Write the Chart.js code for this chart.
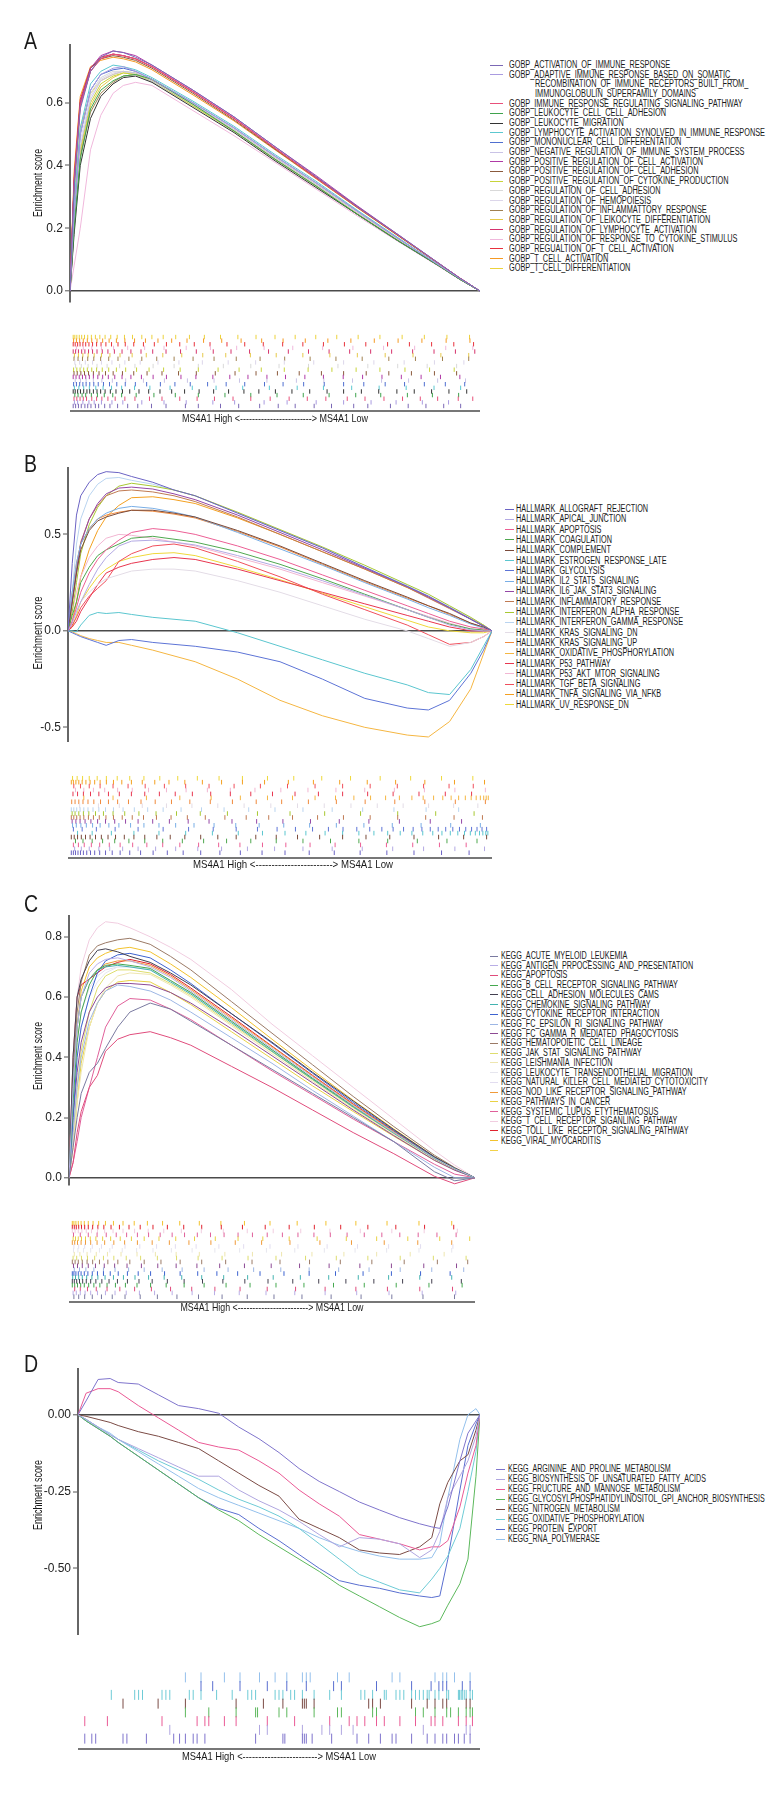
<!DOCTYPE html>
<html><head><meta charset="utf-8">
<script src="https://cdn.jsdelivr.net/npm/chart.js@4.4.1/dist/chart.umd.min.js"></script>
<style>
html,body{margin:0;padding:0;background:#fff}
#page{position:relative;width:780px;height:1800px;overflow:hidden;font-family:'Liberation Sans',Arial,sans-serif;color:#1a1a1a}
#page canvas{position:absolute}
.t{position:absolute;white-space:pre;color:#1a1a1a}
.sw{position:absolute;height:1px}
.base{position:absolute;height:2px;background:#777}
</style></head><body><div id="page"></div>
<script>
// ---------------- DATA ----------------
// x positions are % of the ranked gene list (MS4A1 High -> Low)
const xA = [0,1,2.5,5,7.5,10.5,13,16,20,30,40,50,60,70,80,90,95,100];
const xB = [0,1,2,3,5,7,9,12,15,20,25,30,40,50,60,70,80,85,90,95,98,100];
const xC = [0,1,2,3,5,7,9,12,15,20,25,30,40,50,60,70,80,90,95,100];
const xD = [0,2,5,8,10,15,20,25,30,35,40,45,50,55,60,65,70,75,80,85,88,90,92,95,97,99,100];

const tickA = [0,0.2,0.4,0.6];
const tickB = [-0.5,0,0.5];
const tickC = [0,0.2,0.4,0.6,0.8];
const tickD = [-0.5,-0.25,0];

const gobpNames = [
"GOBP_ACTIVATION_OF_IMMUNE_RESPONSE",
"GOBP_ADAPTIVE_IMMUNE_RESPONSE_BASED_ON_SOMATIC_\nRECOMBINATION_OF_IMMUNE_RECEPTORS_BUILT_FROM_\nIMMUNOGLOBULIN_SUPERFAMILY_DOMAINS",
"GOBP_IMMUNE_RESPONSE_REGULATING_SIGNALING_PATHWAY",
"GOBP_LEUKOCYTE_CELL_CELL_ADHESION",
"GOBP_LEUKOCYTE_MIGRATION",
"GOBP_LYMPHOCYTE_ACTIVATION_SYNOLVED_IN_IMMUNE_RESPONSE",
"GOBP_MONONUCLEAR_CELL_DIFFERENTATION",
"GOBP_NEGATIVE_REGULATION_OF_IMMUNE_SYSTEM_PROCESS",
"GOBP_POSITIVE_REGULATION_OF_CELL_ACTIVATION",
"GOBP_POSITIVE_REGULATION_OF_CELL_ADHESION",
"GOBP_POSITIVE_REGULATION_OF_CYTOKINE_PRODUCTION",
"GOBP_REGULATION_OF_CELL_ADHESION",
"GOBP_REGULATION_OF_HEMOPOIESIS",
"GOBP_REGULATION_OF_INFLAMMATTORY_RESPONSE",
"GOBP_REGULATION_OF_LEIKOCYTE_DIFFERENTIATION",
"GOBP_REGULATION_OF_LYMPHOCYTE_ACTIVATION",
"GOBP_REGULATION_OF_RESPONSE_TO_CYTOKINE_STIMULUS",
"GOBP_REGUALTION_OF_T_CELL_ACTIVATION",
"GOBP_T_CELL_ACTIVATION",
"GOBP_T_CELL_DIFFERENTIATION"];
const gobpColors = ['#7b68b5','#a99be0','#e8507a','#3fa34d','#333333','#5cc8d0','#4f6fd0','#c9c3e6','#b03aa6','#8b5a3c','#c8d43a','#d9d9d9','#dcd6ea','#a08050','#e6c94a','#d6336c','#f0b8dc','#e8323c','#f59a23','#ecd23c'];
const gobpES = [
[0,0.33,0.58,0.70,0.745,0.765,0.76,0.745,0.72,0.64,0.555,0.46,0.365,0.27,0.18,0.088,0.042,0],
[0,0.25,0.50,0.64,0.69,0.71,0.715,0.70,0.675,0.60,0.52,0.43,0.345,0.255,0.168,0.082,0.04,0],
[0,0.34,0.59,0.70,0.74,0.755,0.75,0.74,0.715,0.635,0.55,0.455,0.36,0.268,0.178,0.087,0.042,0],
[0,0.2,0.42,0.58,0.64,0.67,0.685,0.69,0.675,0.595,0.51,0.42,0.335,0.245,0.16,0.08,0.038,0],
[0,0.18,0.40,0.55,0.62,0.66,0.68,0.685,0.665,0.585,0.505,0.415,0.33,0.245,0.16,0.08,0.038,0],
[0,0.28,0.52,0.66,0.70,0.72,0.715,0.705,0.68,0.605,0.525,0.435,0.35,0.258,0.17,0.083,0.04,0],
[0,0.25,0.50,0.64,0.69,0.705,0.71,0.70,0.675,0.60,0.52,0.43,0.345,0.255,0.168,0.082,0.04,0],
[0,0.22,0.46,0.61,0.67,0.69,0.70,0.695,0.67,0.595,0.515,0.425,0.34,0.25,0.165,0.08,0.038,0],
[0,0.35,0.60,0.71,0.75,0.765,0.76,0.75,0.72,0.64,0.555,0.46,0.368,0.272,0.18,0.088,0.042,0],
[0,0.34,0.60,0.71,0.74,0.75,0.745,0.735,0.71,0.63,0.545,0.452,0.36,0.267,0.177,0.087,0.041,0],
[0,0.22,0.45,0.60,0.66,0.685,0.695,0.69,0.67,0.59,0.51,0.42,0.335,0.247,0.163,0.08,0.038,0],
[0,0.25,0.5,0.63,0.68,0.70,0.70,0.69,0.665,0.59,0.51,0.42,0.335,0.247,0.163,0.08,0.038,0],
[0,0.24,0.48,0.62,0.675,0.695,0.70,0.69,0.668,0.592,0.512,0.422,0.337,0.248,0.164,0.08,0.038,0],
[0,0.2,0.43,0.57,0.63,0.665,0.685,0.69,0.672,0.592,0.51,0.42,0.335,0.245,0.162,0.08,0.038,0],
[0,0.22,0.44,0.59,0.65,0.68,0.695,0.69,0.67,0.59,0.51,0.42,0.335,0.247,0.163,0.08,0.038,0],
[0,0.34,0.59,0.70,0.74,0.755,0.75,0.74,0.715,0.635,0.55,0.455,0.362,0.27,0.178,0.087,0.042,0],
[0,0.08,0.2,0.45,0.56,0.63,0.655,0.665,0.655,0.575,0.495,0.41,0.325,0.24,0.158,0.078,0.037,0],
[0,0.36,0.61,0.71,0.745,0.755,0.75,0.74,0.715,0.635,0.55,0.455,0.362,0.27,0.178,0.087,0.042,0],
[0,0.38,0.62,0.715,0.735,0.745,0.74,0.73,0.705,0.625,0.542,0.45,0.358,0.266,0.176,0.086,0.041,0],
[0,0.3,0.52,0.63,0.67,0.69,0.70,0.695,0.67,0.595,0.515,0.425,0.34,0.25,0.165,0.08,0.038,0]];
const gobpHits = [
[0,0.6,1.3,2,2.9,3.6,4.4,5.5,6.3,7.8,9.1,11,13.5,16,19.4,23,27.8,31,36.5,41,46.2,50.8,55,59.7,64,69.5,73,78.6,83,87.4,91.8,96],
[0.3,1.1,2.4,3.9,5.2,7,9.6,12.3,17,22.5,28,34.6,40,47.3,53,60.2,67,73.8,80,86.5,93],
[0.2,0.9,1.7,2.5,3.3,4.6,5.8,7.1,8.6,10.4,12.8,15.3,18.9,22,26.4,30.7,35,39.6,44,48.8,53.5,58,62.6,67.9,72.3,77,81.6,86,90.3,95.4,99],
[0.4,1.2,2.2,3.1,4.5,6,7.7,9.8,12,15.6,20,25.3,31,37.6,44,50.5,57,63.4,70,76.2,82.8,89,95.5],
[0,0.5,1.1,1.8,2.6,3.4,4.1,5,5.9,6.8,7.9,9.2,10.6,12.2,14,16.3,18.7,21.5,24.4,27.6,31.2,34.8,38.5,42.3,46,50.1,54.2,58.6,62.9,67,71.4,75.7,80.2,84.5,88.8,93.1,97.5],
[0.3,1.4,2.6,4,5.6,7.4,9.5,12,15.2,19,24,29.5,35.4,42,48.6,55.5,62,69,75.8,82.5,89.4,96],
[0.1,0.8,1.6,2.4,3.2,4.1,5.1,6.2,7.5,9,10.8,12.9,15.4,18.2,21.6,25.2,29,33.3,37.9,42.5,47.4,52,57.1,62.2,67,72,77.3,82.1,87,92.2,97],
[0.5,1.8,3.2,5,7.1,9.7,13,17.4,22.6,28.3,34.9,41.2,48,55.3,62.1,69.2,76.4,83.1,90.3,97.2],
[0,0.7,1.5,2.3,3.1,4,5,6.1,7.3,8.7,10.3,12.1,14.3,16.9,19.8,23.1,26.7,30.4,34.6,38.8,43.3,48,52.6,57.4,62,66.9,71.7,76.5,81.3,86.2,91,95.8],
[0.2,1,1.9,2.8,3.8,5,6.4,8,9.9,12.2,15,18.3,22,26.1,30.5,35.2,40.1,45.3,50.6,56,61.5,67,72.6,78.2,83.8,89.5,95],
[0.1,0.9,1.7,2.6,3.5,4.6,5.8,7.2,8.8,10.7,13,15.7,18.8,22.4,26.5,31,35.9,41.1,46.6,52.3,58.2,64.1,70.1,76,82.2,88.3,94.4],
[0.6,2,3.7,5.9,8.4,11.5,15.3,19.8,25,31,37.2,44,51,58.3,65.6,73,80.4,87.7,95],
[0.4,1.6,3,4.8,7,9.6,12.8,16.6,21,26.2,32,38.4,45.2,52.3,59.6,67,74.5,82,89.5,96.8],
[0.2,1.2,2.3,3.6,5.1,6.8,8.8,11.1,13.8,17,20.7,25,29.7,34.9,40.4,46.3,52.4,58.7,65.1,71.6,78.2,84.8,91.5,98],
[0.3,1.3,2.4,3.7,5.2,7,9.1,11.6,14.6,18.1,22.2,26.9,32.1,37.8,43.9,50.3,56.9,63.6,70.4,77.3,84.2,91.1,98],
[0,0.6,1.3,2.1,2.9,3.8,4.8,5.9,7.2,8.6,10.2,12.1,14.3,16.8,19.7,23,26.6,30.5,34.7,39.1,43.7,48.4,53.3,58.3,63.4,68.5,73.7,78.9,84.1,89.4,94.7,99.5],
[0.8,2.5,4.6,7,10,13.5,17.7,22.5,28,34,40.5,47.3,54.4,61.8,69.3,76.9,84.6,92.3,99],
[0,0.5,1.1,1.7,2.4,3.1,3.9,4.8,5.8,6.9,8.1,9.5,11.1,12.9,15,17.4,20.1,23.1,26.4,30,33.9,38.1,42.5,47.1,51.9,56.9,62,67.2,72.5,77.9,83.3,88.8,94.3,99.2],
[0.1,0.8,1.6,2.5,3.5,4.6,5.9,7.3,8.9,10.7,12.8,15.2,17.9,21,24.4,28.2,32.3,36.8,41.6,46.7,52,57.5,63.1,68.8,74.6,80.5,86.4,92.4,98.3],
[0,0.4,0.9,1.5,2.1,2.8,3.6,4.5,5.5,6.6,7.9,9.3,10.9,12.7,14.7,17,19.5,22.3,25.4,28.8,32.5,36.5,40.8,45.3,50,55,60.1,65.3,70.6,76,81.5,87,92.6,98.2]];

const hallNames = ["HALLMARK_ALLOGRAFT_REJECTION","HALLMARK_APICAL_JUNCTION","HALLMARK_APOPTOSIS","HALLMARK_COAGULATION","HALLMARK_COMPLEMENT","HALLMARK_ESTROGEN_RESPONSE_LATE","HALLMARK_GLYCOLYSIS","HALLMARK_IL2_STAT5_SIGNALING","HALLMARK_IL6_JAK_STAT3_SIGNALING","HALLMARK_INFLAMMATORY_RESPONSE","HALLMARK_INTERFERON_ALPHA_RESPONSE","HALLMARK_INTERFERON_GAMMA_RESPONSE","HALLMARK_KRAS_SIGNALING_DN","HALLMARK_KRAS_SIGNALING_UP","HALLMARK_OXIDATIVE_PHOSPHORYLATION","HALLMARK_P53_PATHWAY","HALLMARK_P53_AKT_MTOR_SIGNALING","HALLMARK_TGF_BETA_SIGNALING","HALLMARK_TNFA_SIGNALING_VIA_NFKB","HALLMARK_UV_RESPONSE_DN"];
const hallColors = ['#6b63c4','#b3a9e3','#ec5f95','#4fa84f','#7a4a3a','#5bc6cf','#5d74d6','#79aee6','#9447a6','#c07a52','#a8c832','#b9d4f0','#e3dce6','#f08a3c','#f5b642','#e8364f','#f2b6d2','#f04f5c','#f4a020','#efd83a'];
const hallES = [
[0,0.35,0.60,0.70,0.77,0.81,0.825,0.82,0.80,0.77,0.73,0.70,0.61,0.52,0.43,0.33,0.23,0.18,0.12,0.06,0.025,0],
[0,0.04,0.1,0.15,0.24,0.32,0.38,0.44,0.465,0.47,0.46,0.445,0.39,0.33,0.26,0.185,0.11,0.07,0.03,0.005,0,0],
[0,0.05,0.12,0.2,0.3,0.37,0.42,0.47,0.51,0.53,0.52,0.50,0.44,0.37,0.29,0.21,0.13,0.09,0.05,0.02,0.01,0],
[0,0.08,0.15,0.25,0.33,0.39,0.42,0.45,0.48,0.49,0.475,0.46,0.41,0.345,0.27,0.19,0.11,0.07,0.035,0.01,0.005,0],
[0,0.15,0.3,0.42,0.52,0.57,0.59,0.61,0.625,0.625,0.61,0.59,0.52,0.44,0.35,0.26,0.175,0.13,0.09,0.04,0.02,0],
[0,0,-0.005,0.03,0.08,0.095,0.09,0.095,0.085,0.07,0.06,0.05,-0.01,-0.08,-0.15,-0.22,-0.28,-0.32,-0.33,-0.2,-0.08,0],
[0,-0.01,-0.02,-0.03,-0.045,-0.06,-0.075,-0.05,-0.045,-0.06,-0.07,-0.08,-0.11,-0.16,-0.25,-0.35,-0.40,-0.41,-0.36,-0.22,-0.1,0],
[0,0.2,0.35,0.45,0.53,0.58,0.61,0.635,0.645,0.635,0.615,0.59,0.51,0.425,0.34,0.25,0.165,0.12,0.08,0.035,0.015,0],
[0,0.15,0.3,0.45,0.58,0.66,0.71,0.74,0.745,0.735,0.71,0.68,0.60,0.51,0.42,0.325,0.23,0.175,0.12,0.06,0.025,0],
[0,0.15,0.32,0.46,0.58,0.65,0.70,0.725,0.73,0.72,0.70,0.67,0.59,0.50,0.41,0.32,0.225,0.17,0.115,0.06,0.025,0],
[0,0.1,0.25,0.4,0.55,0.64,0.70,0.75,0.765,0.75,0.73,0.70,0.615,0.525,0.435,0.34,0.24,0.19,0.13,0.07,0.03,0],
[0,0.2,0.45,0.58,0.70,0.76,0.79,0.795,0.78,0.76,0.73,0.70,0.61,0.52,0.43,0.33,0.235,0.18,0.125,0.065,0.03,0],
[0,0.05,0.1,0.15,0.2,0.24,0.27,0.29,0.31,0.32,0.32,0.31,0.26,0.2,0.13,0.06,0,-0.04,-0.08,-0.06,-0.03,0],
[0,0.2,0.35,0.45,0.53,0.58,0.60,0.615,0.625,0.62,0.605,0.585,0.515,0.435,0.345,0.255,0.17,0.13,0.085,0.04,0.015,0],
[0,-0.005,-0.015,-0.025,-0.04,-0.05,-0.06,-0.06,-0.075,-0.1,-0.13,-0.16,-0.25,-0.36,-0.44,-0.5,-0.54,-0.55,-0.47,-0.3,-0.12,0],
[0,0.02,0.05,0.1,0.17,0.24,0.30,0.33,0.35,0.37,0.38,0.37,0.32,0.26,0.2,0.14,0.08,0.05,0.02,0,0,0],
[0,0.1,0.2,0.28,0.38,0.44,0.48,0.50,0.495,0.48,0.46,0.44,0.38,0.32,0.25,0.18,0.11,0.075,0.04,0.01,0,0],
[0,0.03,0.07,0.12,0.18,0.22,0.26,0.36,0.40,0.44,0.45,0.43,0.36,0.28,0.19,0.11,0.03,-0.02,-0.07,-0.06,-0.03,0],
[0,0.05,0.15,0.28,0.42,0.52,0.59,0.65,0.69,0.695,0.68,0.66,0.585,0.50,0.41,0.32,0.225,0.175,0.12,0.065,0.03,0],
[0,0.02,0.08,0.15,0.22,0.28,0.32,0.36,0.38,0.40,0.405,0.39,0.33,0.265,0.195,0.125,0.055,0.02,0,-0.01,-0.01,0]];
const hallHits = [
[0,0.5,1,1.6,2.2,2.9,3.7,4.6,5.6,6.8,8.2,9.8,11.7,14,16.6,19.6,23,26.8,31,35.6,40.5,45.7,51.2,57,63,69.2,75.6,82.1,88.7,95.3],
[0.8,2.4,4.3,6.6,9.2,12.3,16,20.2,25,30.3,36,42.2,48.7,55.5,62.5,69.7,77,84.4,91.9,99],
[0.5,1.7,3.1,4.8,6.8,9.1,11.7,14.7,18.1,21.9,26,30.5,35.3,40.4,45.8,51.4,57.2,63.2,69.3,75.5,81.8,88.2,94.6],
[1,2.8,5,7.5,10.4,13.8,17.6,21.9,26.6,31.7,37.2,43,49.1,55.5,62.1,68.9,75.8,82.9,90,97.2],
[0,0.7,1.5,2.4,3.4,4.5,5.8,7.2,8.8,10.6,12.7,15,17.6,20.5,23.7,27.2,31,35.1,39.5,44.2,49.1,54.2,59.5,65,70.6,76.3,82.1,88,94,99.5],
[1.5,5,9.6,15,21,27.4,33.8,40,45.8,51.2,56.2,60.8,65,68.9,72.5,75.8,78.8,81.6,84.2,86.6,88.8,90.8,92.6,94.2,95.6,96.8,97.8,98.6,99.3,99.8],
[0.5,2.6,6,10.5,16,22,28.1,34,39.5,44.6,49.3,53.7,57.8,61.6,65.1,68.4,71.5,74.4,77.1,79.6,81.9,84,86,87.9,89.7,91.4,93,94.5,95.9,97.2,98.4,99.5],
[0.3,1.2,2.3,3.6,5.1,6.9,9,11.4,14.2,17.4,21,25,29.4,34.2,39.4,45,50.9,57.1,63.5,70.1,76.9,83.8,90.9,98],
[0.2,1.1,2.1,3.3,4.7,6.3,8.2,10.4,13,16,19.5,23.5,28,33,38.5,44.4,50.7,57.3,64.2,71.3,78.6,86,93.5],
[0,0.6,1.3,2.1,3,4.1,5.3,6.7,8.3,10.1,12.2,14.6,17.3,20.4,23.9,27.8,32.1,36.8,41.9,47.3,53,59,65.2,71.6,78.2,84.9,91.7,98.5],
[0.2,0.9,1.8,2.9,4.2,5.8,7.7,10,12.8,16.2,20.3,25.2,30.9,37.4,44.6,52.4,60.7,69.3,78.2,87.3,96.5],
[0,0.6,1.3,2.1,3,4,5.2,6.6,8.2,10.1,12.4,15.1,18.3,22,26.3,31.2,36.6,42.5,48.8,55.5,62.5,69.8,77.3,85,92.8],
[2,6.5,11.5,17,22.8,28.9,35.1,41.4,47.8,54.2,60.6,67,73.3,79.5,85.6,91.6,97.4],
[0.1,0.9,1.8,2.8,4,5.4,7,8.9,11.1,13.7,16.7,20.1,24,28.4,33.3,38.6,44.3,50.4,56.8,63.5,70.4,77.5,84.7,92,99.2],
[3,10,18,26,33.5,40.5,47,53,58.4,63.3,67.7,71.7,75.3,78.6,81.6,84.3,86.8,89,91,92.8,94.4,95.8,97,98,98.8,99.4,99.9],
[0.4,1.5,2.9,4.6,6.6,8.9,11.5,14.4,17.6,21.1,24.9,29,33.4,38.1,43,48.2,53.6,59.2,65,71,77.1,83.3,89.6,95.9],
[1,3,5.3,8,11.1,14.6,18.5,22.8,27.5,32.6,38.1,44,50.2,56.7,63.4,70.3,77.4,84.6,91.9,99.2],
[0.6,2.2,4.3,6.9,10,13.6,17.7,22.3,27.4,33,39,45.3,51.8,58.4,65,71.6,78.1,84.4,90.5,96.3],
[0,0.5,1.1,1.8,2.6,3.5,4.5,5.6,6.9,8.4,10.1,12.1,14.4,17,20,23.4,27.2,31.4,36,41,46.3,52,58,64.3,70.9,77.7,84.7,91.8,99],
[0.3,1.4,2.7,4.3,6.2,8.4,11,14,17.4,21.2,25.5,30.2,35.4,41,47,53.3,60,66.9,74,81.3,88.7,96.2]];

const keggNames = ["KEGG_ACUTE_MYELOID_LEUKEMIA","KEGG_ANTIGEN_PRPOCESSING_AND_PRESENTATION","KEGG_APOPTOSIS","KEGG_B_CELL_RECEPTOR_SIGNALING_PATHWAY","KEGG_CELL_ADHESION_MOLECULES_CAMS","KEGG_CHEMOKINE_SIGNALING_PATHWAY","KEGG_CYTOKINE_RECEPTOR_INTERACTION","KEGG_FC_EPSILON_RI_SIGNALING_PATHWAY","KEGG_FC_GAMMA_R_MEDIATED_PHAGOCYTOSIS","KEGG_HEMATOPOIETIC_CELL_LINEAGE","KEGG_JAK_STAT_SIGNALING_PATHWAY","KEGG_LEISHMANIA_INFECTION","KEGG_LEUKOCYTE_TRANSENDOTHELIAL_MIGRATION","KEGG_NATURAL_KILLER_CELL_MEDIATED_CYTOTOXICITY","KEGG_NOD_LIKE_RECEPTOR_SIGNALING_PATHWAY","KEGG_PATHWAYS_IN_CANCER","KEGG_SYSTEMIC_LUPUS_ETYTHEMATOSUS","KEGG_T_CELL_RECEPTOR_SIGANLING_PATHWAY","KEGG_TOLL_LIKE_RECEPTOR_SIGNALING_PATHWAY","KEGG_VIRAL_MYOCARDITIS"];
const keggColors = ['#7a7aa0','#b9aee6','#e04c7c','#45a84f','#444050','#43b3b0','#3d63d0','#9db6e4','#8d4a94','#9b7a66','#dedd6e','#eee6b0','#e6e6ee','#e2ddf0','#f09a3a','#e9d245','#e0609a','#f1cde0','#e0232f','#f2c22e'];
const keggES = [
[0,0.10,0.2,0.28,0.35,0.38,0.43,0.50,0.55,0.58,0.56,0.52,0.44,0.36,0.28,0.2,0.12,0.02,-0.01,0],
[0,0.3,0.5,0.6,0.68,0.71,0.725,0.73,0.72,0.70,0.665,0.62,0.525,0.43,0.335,0.24,0.15,0.065,0.03,0],
[0,0.05,0.15,0.22,0.30,0.34,0.42,0.46,0.475,0.485,0.465,0.44,0.37,0.30,0.225,0.15,0.08,0.005,-0.02,0],
[0,0.25,0.45,0.55,0.64,0.69,0.705,0.71,0.705,0.695,0.655,0.615,0.52,0.425,0.33,0.238,0.15,0.065,0.03,0],
[0,0.4,0.6,0.66,0.72,0.755,0.76,0.75,0.735,0.715,0.68,0.64,0.545,0.45,0.35,0.255,0.16,0.07,0.032,0],
[0,0.3,0.5,0.6,0.66,0.69,0.70,0.705,0.70,0.69,0.65,0.61,0.515,0.42,0.327,0.235,0.148,0.064,0.03,0],
[0,0.2,0.4,0.5,0.6,0.68,0.72,0.74,0.745,0.73,0.69,0.645,0.545,0.447,0.347,0.25,0.157,0.068,0.031,0],
[0,0.15,0.3,0.4,0.52,0.58,0.62,0.64,0.635,0.62,0.59,0.55,0.465,0.38,0.29,0.205,0.12,0.035,0.0,0],
[0,0.2,0.35,0.45,0.55,0.60,0.63,0.645,0.645,0.64,0.615,0.58,0.495,0.405,0.315,0.225,0.14,0.058,0.025,0],
[0,0.35,0.55,0.65,0.74,0.77,0.78,0.79,0.795,0.775,0.735,0.69,0.585,0.48,0.375,0.27,0.17,0.075,0.034,0],
[0,0.15,0.3,0.42,0.55,0.63,0.67,0.69,0.69,0.68,0.645,0.605,0.51,0.418,0.325,0.233,0.147,0.063,0.028,0],
[0,0.1,0.25,0.35,0.5,0.58,0.63,0.67,0.68,0.675,0.64,0.60,0.505,0.412,0.32,0.228,0.143,0.06,0.027,0],
[0,0.2,0.4,0.5,0.6,0.65,0.68,0.7,0.7,0.69,0.655,0.615,0.52,0.425,0.33,0.237,0.15,0.064,0.03,0],
[0,0.25,0.45,0.55,0.63,0.67,0.69,0.70,0.70,0.69,0.655,0.612,0.518,0.423,0.33,0.237,0.15,0.064,0.03,0],
[0,0.3,0.5,0.6,0.66,0.69,0.71,0.72,0.72,0.705,0.67,0.625,0.53,0.435,0.338,0.243,0.153,0.066,0.03,0],
[0,0.1,0.25,0.38,0.5,0.58,0.62,0.65,0.655,0.65,0.615,0.575,0.485,0.395,0.305,0.22,0.138,0.058,0.026,0],
[0,0.05,0.12,0.2,0.3,0.4,0.5,0.57,0.595,0.59,0.56,0.525,0.44,0.355,0.275,0.195,0.12,0.045,0.012,0],
[0,0.4,0.6,0.7,0.79,0.83,0.85,0.845,0.83,0.80,0.765,0.725,0.625,0.51,0.405,0.3,0.195,0.09,0.042,0],
[0,0.4,0.6,0.64,0.66,0.68,0.70,0.715,0.725,0.71,0.675,0.63,0.535,0.437,0.34,0.245,0.155,0.066,0.03,0],
[0,0.3,0.5,0.62,0.7,0.73,0.745,0.76,0.765,0.75,0.71,0.665,0.565,0.46,0.357,0.257,0.162,0.07,0.032,0]];
const keggHits = [
[0.4,1.6,3.1,5,7.3,10,13.2,17,21.3,26.2,31.6,37.5,43.8,50.5,57.5,64.8,72.3,80,87.8,95.7],
[0.2,1,2,3.2,4.6,6.3,8.3,10.7,13.5,16.8,20.6,25,30,35.6,41.8,48.5,55.7,63.3,71.2,79.3,87.6,96],
[0.6,2,3.8,6,8.7,11.9,15.6,19.8,24.6,29.9,35.7,42,48.8,55.9,63.3,71,78.9,87,95.2],
[0,0.6,1.3,2.1,3,4.1,5.4,6.9,8.7,10.8,13.3,16.2,19.6,23.5,28,33,38.5,44.5,51,58,65.4,73.1,81.1,89.3,97.6],
[0,0.5,1.1,1.8,2.6,3.5,4.6,5.9,7.4,9.2,11.3,13.8,16.7,20,23.8,28,32.6,37.7,43.2,49,55.2,61.7,68.5,75.5,82.7,90,97.4],
[0.1,0.8,1.6,2.5,3.6,4.9,6.4,8.2,10.3,12.8,15.7,19.1,23,27.4,32.4,37.9,43.9,50.3,57.1,64.2,71.6,79.2,87,95],
[0,0.4,0.9,1.5,2.2,3,3.9,5,6.3,7.8,9.5,11.5,13.8,16.5,19.6,23.1,27,31.4,36.2,41.4,47,53,59.3,65.9,72.8,79.9,87.2,94.6],
[0.5,1.8,3.4,5.4,7.8,10.7,14.1,18,22.5,27.5,33,39,45.4,52.2,59.3,66.7,74.3,82.1,90,98],
[0.3,1.3,2.5,4,5.8,8,10.6,13.7,17.3,21.4,26,31.2,36.9,43.1,49.8,56.9,64.3,72,79.9,88,96.2],
[0,0.7,1.5,2.5,3.7,5.1,6.8,8.9,11.4,14.4,18,22.2,27,32.4,38.4,45,52,59.4,67.1,75,83.1,91.4,99],
[0.2,1.1,2.3,3.8,5.6,7.8,10.4,13.5,17.1,21.3,26.1,31.5,37.5,44,51,58.4,66.1,74,82.1,90.4,98.6],
[0.5,1.9,3.7,6,8.8,12.2,16.2,20.8,26,31.8,38.2,45.1,52.4,60,68,76.2,84.6,93.1],
[0.3,1.4,2.8,4.6,6.8,9.4,12.5,16.1,20.2,24.8,30,35.7,41.9,48.6,55.7,63.1,70.8,78.7,86.8,95],
[0.4,1.6,3.1,5,7.3,10,13.2,16.9,21.1,25.8,31,36.7,42.9,49.5,56.5,63.8,71.4,79.2,87.2,95.3],
[0,0.6,1.3,2.2,3.3,4.6,6.2,8.1,10.4,13.1,16.3,20,24.3,29.2,34.7,40.8,47.4,54.5,62,69.9,78.1,86.5,95],
[0.2,0.8,1.5,2.3,3.3,4.5,5.9,7.6,9.6,12,14.8,18,21.7,25.9,30.6,35.8,41.5,47.7,54.3,61.3,68.6,76.2,84,92,99.5],
[0.3,2,4,6.2,8.5,11,13.6,16.3,19.1,22,25,28.1,31.3,34.6,38,41.5,45.1,48.8,52.6,56.5,60.5,64.6,68.8,73.1,77.5,82,86.6,91.3,96.1],
[0,0.7,1.5,2.4,3.5,4.8,6.3,8.1,10.2,12.7,15.6,19,22.9,27.3,32.3,37.8,43.8,50.3,57.2,64.5,72.1,80,88.1,96.4],
[0,0.5,1,1.6,2.3,3.1,4,5.1,6.4,7.9,9.7,11.8,14.2,17,20.2,23.8,27.9,32.4,37.3,42.6,48.3,54.3,60.6,67.2,74,81,88.2,95.5],
[0,0.4,0.9,1.5,2.2,3,4,5.2,6.6,8.3,10.3,12.7,15.5,18.8,22.6,26.9,31.8,37.2,43.1,49.5,56.3,63.5,71,78.8,86.8,95]];

const metaNames = ["KEGG_ARGININE_AND_PROLINE_METABOLISM","KEGG_BIOSYNTHESIS_OF_UNSATURATED_FATTY_ACIDS","KEGG_FRUCTURE_AND_MANNOSE_METABOLISM","KEGG_GLYCOSYLPHOSPHATIDYLINOSITOL_GPI_ANCHOR_BIOSYNTHESIS","KEGG_NITROGEN_METABOLISM","KEGG_OXIDATIVE_PHOSPHORYLATION","KEGG_PROTEIN_EXPORT","KEGG_RNA_POLYMERASE"];
const metaColors = ['#7f74cc','#b0a6e0','#ea5a95','#5cb85c','#7b4b45','#6ecbd6','#5a6fd0','#94c0ec'];
const metaES = [
[0,0.045,0.115,0.118,0.105,0.10,0.065,0.03,0.02,0.005,-0.04,-0.078,-0.123,-0.175,-0.217,-0.25,-0.284,-0.31,-0.335,-0.355,-0.365,-0.37,-0.3,-0.15,-0.06,-0.02,0],
[0,-0.015,-0.04,-0.065,-0.08,-0.11,-0.14,-0.17,-0.2,-0.2,-0.245,-0.28,-0.31,-0.347,-0.39,-0.43,-0.40,-0.405,-0.42,-0.465,-0.44,-0.38,-0.27,-0.2,-0.15,-0.07,0],
[0,0.07,0.085,0.085,0.075,0.03,-0.01,-0.05,-0.09,-0.105,-0.115,-0.15,-0.19,-0.245,-0.29,-0.33,-0.39,-0.405,-0.42,-0.44,-0.43,-0.43,-0.41,-0.3,-0.19,-0.1,0],
[0,-0.02,-0.045,-0.07,-0.09,-0.135,-0.18,-0.225,-0.27,-0.31,-0.345,-0.39,-0.43,-0.47,-0.51,-0.555,-0.59,-0.625,-0.66,-0.69,-0.68,-0.67,-0.62,-0.55,-0.47,-0.2,0],
[0,-0.005,-0.015,-0.025,-0.035,-0.055,-0.07,-0.09,-0.11,-0.15,-0.19,-0.23,-0.265,-0.34,-0.37,-0.40,-0.44,-0.45,-0.455,-0.43,-0.40,-0.29,-0.22,-0.15,-0.13,-0.05,0],
[0,-0.015,-0.04,-0.065,-0.08,-0.115,-0.15,-0.18,-0.21,-0.245,-0.275,-0.30,-0.33,-0.37,-0.42,-0.47,-0.52,-0.545,-0.57,-0.58,-0.535,-0.50,-0.46,-0.37,-0.25,-0.12,0],
[0,-0.02,-0.045,-0.07,-0.09,-0.135,-0.18,-0.225,-0.27,-0.305,-0.325,-0.37,-0.41,-0.455,-0.50,-0.54,-0.555,-0.565,-0.58,-0.59,-0.595,-0.59,-0.47,-0.245,-0.10,-0.03,0],
[0,-0.015,-0.04,-0.06,-0.08,-0.12,-0.16,-0.2,-0.24,-0.27,-0.295,-0.32,-0.345,-0.37,-0.40,-0.425,-0.445,-0.46,-0.47,-0.47,-0.465,-0.42,-0.27,-0.08,0.0,0.02,0]];
const metaHits = [
[0.2,2,3,10,11,16,23,24.5,26,28,29,31,44,51,51.5,56,56.5,57,58.5,63.5,70,73,76,79,80,84,88,90,92,93,95,96,97.5,99],
[22,45,47,56,61,63,66,69,87,98,99],
[0.2,6,20,29,31,32,36,39,47,54,63,68,70,72,75,77,81,85,89,90,92,96,98,99.6],
[26,32,39,44,44.5,50,52,59,65,66,74,75,85,87,90,93,94,96,98,99,99.6],
[10,19,26,39,46,51,56,56.5,57,59,73,74,76,84,88,90,92,93,98,99],
[7,13,14,15,20,21,22,27,28,30,34,38,42,43,44,49,50,51,53,54,56,59,63,66,71,72,74,77,77.5,80,81,82,84,85,86,87,88,88.5,90,91,93,93.5,96,96.3,96.7,97,97.5,98,99,99.6],
[30,33,40,47,52,57,64,66,75,84,89,91,92,93,97,99],
[26,30,36,40,45,49,52,56,57,58,65,68,79,81,90,92,93,95,99]];

const rugLabel = "MS4A1 High <------------------------> MS4A1 Low";

// ---------------- LAYOUT / DRAWING ----------------
const page = document.getElementById('page');
const TICKFONT = "'Liberation Sans Narrow', 'Liberation Sans', Arial, sans-serif";

function measure(str, fs) {
  const d = document.createElement('div');
  d.className = 't'; d.style.fontSize = fs + 'px'; d.style.visibility = 'hidden';
  d.textContent = str; page.appendChild(d);
  const w = d.getBoundingClientRect().width; page.removeChild(d); return w;
}
function text(str, x, cy, fs, k, anchor, rot) {
  const d = document.createElement('div');
  d.className = 't'; d.textContent = str;
  d.style.fontSize = fs + 'px'; d.style.lineHeight = fs + 'px';
  page.appendChild(d);
  const w = d.getBoundingClientRect().width;
  d.style.top = (cy - fs / 2) + 'px';
  if (anchor === 'center') {
    d.style.left = (x - w / 2) + 'px';
    d.style.transformOrigin = '50% 50%';
    d.style.transform = (rot ? 'rotate(-90deg) ' : '') + 'scaleX(' + k + ')';
  } else {
    d.style.left = x + 'px';
    d.style.transformOrigin = '0 50%';
    d.style.transform = 'scaleX(' + k + ')';
  }
}
function fitText(str, x, cy, fs, targetW, anchor, rot) {
  text(str, x, cy, fs, targetW / measure(str, fs), anchor, rot);
}

function lineChart(P, xs, values, colors, names) {
  const padT = 12, padB = 12, padR = 6;
  const W = P.r + padR, H = (P.b - P.t) + padT + padB;
  const c = document.createElement('canvas');
  c.width = W; c.height = H;
  c.style.left = '0px'; c.style.top = (P.t - padT) + 'px';
  c.style.width = W + 'px'; c.style.height = H + 'px';
  page.appendChild(c);
  new Chart(c, {
    type: 'line',
    data: { datasets: values.map((v, i) => ({
      label: names[i].replace(/\n/g, ''),
      data: xs.map((x, j) => ({ x: x, y: v[j] })),
      borderColor: colors[i], backgroundColor: colors[i],
      borderWidth: 1, pointRadius: 0, fill: false, tension: 0
    })) },
    options: {
      responsive: false, animation: false, devicePixelRatio: 1,
      layout: { padding: { top: padT, bottom: padB, right: padR, left: 0 } },
      plugins: { legend: { display: false }, tooltip: { enabled: false } },
      scales: {
        x: { type: 'linear', min: 0, max: 100, display: false },
        y: {
          type: 'linear', min: P.ymin, max: P.ymax,
          afterFit: s => { s.width = P.l; },
          afterBuildTicks: s => { s.ticks = P.ticks.map(v => ({ value: v })); },
          ticks: { callback: v => Number(v).toFixed(P.dec), font: { size: 12, family: TICKFONT }, color: '#222', padding: 2 },
          grid: {
            drawOnChartArea: true, drawTicks: true, tickLength: 5, tickColor: '#555', tickWidth: 1,
            color: ctx => (ctx.tick && Math.abs(ctx.tick.value) < 1e-9) ? '#4a4a4a' : 'rgba(0,0,0,0)',
            lineWidth: ctx => (ctx.tick && Math.abs(ctx.tick.value) < 1e-9) ? 1.6 : 0
          },
          border: { display: true, color: '#666', width: 2 }
        }
      }
    }
  });
}

function rugChart(P, hits, colors) {
  const W = P.r - P.l, H = P.rb - P.rt;
  const c = document.createElement('canvas');
  c.width = W; c.height = H;
  c.style.left = P.l + 'px'; c.style.top = P.rt + 'px';
  c.style.width = W + 'px'; c.style.height = H + 'px';
  page.appendChild(c);
  const n = hits.length;
  new Chart(c, {
    type: 'scatter',
    data: { datasets: hits.map((h, i) => ({
      data: h.map(x => ({ x: x, y: i })),
      pointStyle: 'line', pointRotation: 90, pointRadius: P.rr, pointHoverRadius: P.rr,
      pointBorderColor: colors[i], pointBorderWidth: 1, pointBackgroundColor: colors[i], showLine: false, clip: false
    })) },
    options: {
      responsive: false, animation: false, devicePixelRatio: 1,
      layout: { padding: 0 },
      plugins: { legend: { display: false }, tooltip: { enabled: false } },
      scales: {
        x: { type: 'linear', min: 0, max: 100, display: false },
        y: { type: 'linear', min: -0.5, max: n - 0.5, display: false }
      }
    }
  });
  const b = document.createElement('div');
  b.className = 'base';
  b.style.left = P.l + 'px'; b.style.width = (P.r - P.l) + 'px'; b.style.top = (P.rb - 1) + 'px';
  page.appendChild(b);
}

function legend(names, colors, L) {
  const k = L.refW / measure(L.ref, L.fs);
  let row = 0;
  names.forEach((nm, i) => {
    const y = L.y0 + row * L.dy;
    const s = document.createElement('div');
    s.className = 'sw';
    s.style.left = L.sx + 'px'; s.style.width = L.sw + 'px'; s.style.top = (y - 0.5) + 'px';
    s.style.background = colors[i];
    page.appendChild(s);
    const lines = nm.split('\n');
    lines.forEach((ln, j) => {
      if (ln) text(ln, j === 0 ? L.tx : L.indent, L.y0 + (row + j) * L.dy, L.fs, k, 'left');
    });
    row += lines.length;
  });
}

const panels = [
  { id: 'A', names: gobpNames, colors: gobpColors, es: gobpES, xs: xA, hits: gobpHits, ticks: tickA, dec: 1,
    l: 70, r: 480, t: 45, b: 302, ymin: -0.035, ymax: 0.784,
    letterY: 41, titleY: 183, titleW: 68,
    leg: { sx: 490, sw: 13, tx: 509, indent: 535, y0: 65, dy: 9.68, fs: 10, ref: gobpNames[5], refW: 256 },
    rt: 332, rb: 411, rr: 2.2, labY: 418, labW: 186, labX: 275 },
  { id: 'B', names: hallNames, colors: hallColors, es: hallES, xs: xB, hits: hallHits, ticks: tickB, dec: 1,
    l: 68, r: 492, t: 468, b: 742, ymin: -0.576, ymax: 0.844,
    letterY: 464, titleY: 633, titleW: 73,
    leg: { sx: 505, sw: 9, tx: 516, indent: 516, y0: 509, dy: 10.3, fs: 10, ref: hallNames[11], refW: 167 },
    rt: 773, rb: 858, rr: 2.3, labY: 864, labW: 200, labX: 293 },
  { id: 'C', names: keggNames.concat(['']), colors: keggColors.concat(['#f2d24a']), es: keggES, xs: xC, hits: keggHits, ticks: tickC, dec: 1,
    l: 69, r: 475, t: 916, b: 1185, ymin: -0.024, ymax: 0.869,
    letterY: 904, titleY: 1056, titleW: 68,
    leg: { sx: 490, sw: 8, tx: 501, indent: 501, y0: 956, dy: 9.72, fs: 10, ref: keggNames[13], refW: 206.7 },
    rt: 1218, rb: 1302, rr: 2.3, labY: 1307, labW: 183, labX: 272 },
  { id: 'D', names: metaNames, colors: metaColors, es: metaES, xs: xD, hits: metaHits, ticks: tickD, dec: 2,
    l: 78, r: 480, t: 1369, b: 1635, ymin: -0.717, ymax: 0.149,
    letterY: 1364, titleY: 1495, titleW: 70,
    leg: { sx: 496, sw: 9, tx: 508, indent: 508, y0: 1469, dy: 10.05, fs: 10, ref: metaNames[3], refW: 256.7 },
    rt: 1667, rb: 1749, rr: 5, labY: 1756, labW: 194, labX: 279 }
];

panels.forEach(P => {
  lineChart(P, P.xs, P.es, P.colors, P.names);
  rugChart(P, P.hits, P.colors);
  legend(P.names, P.colors, P.leg);
  text(P.id, 24, P.letterY, 23, 0.85, 'left');
  fitText('Enrichment score', 38, P.titleY, 12, P.titleW, 'center', true);
  fitText(rugLabel, P.labX, P.labY, 11, P.labW, 'center', false);
});
</script></body></html>
